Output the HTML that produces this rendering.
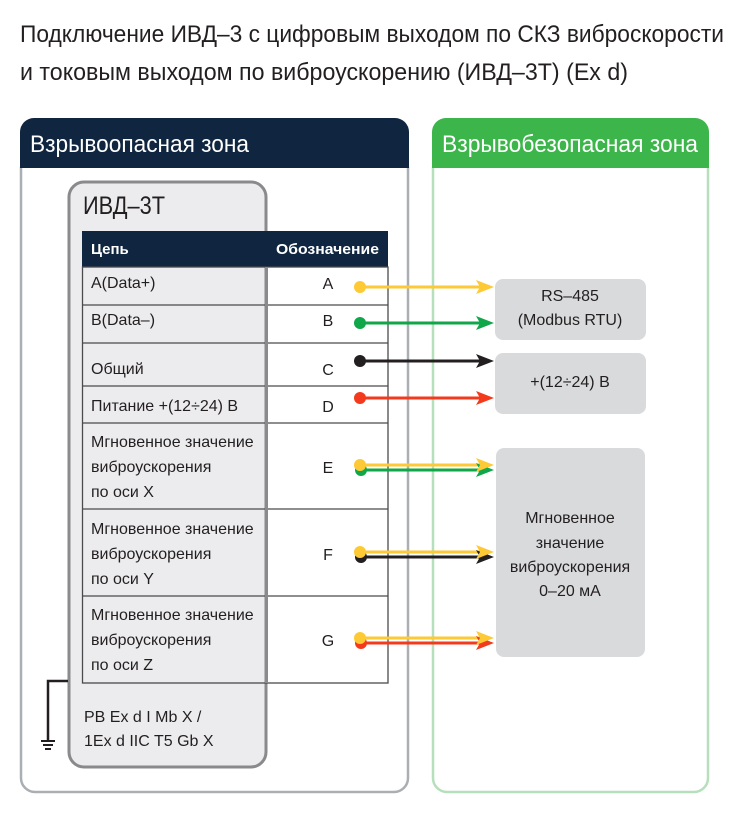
<!DOCTYPE html>
<html><head><meta charset="utf-8"><style>
html,body{margin:0;padding:0;background:#fff}
svg{display:block}
text{font-family:"Liberation Sans Narrow","Liberation Sans",sans-serif;fill:#231f20}
</style></head><body>
<svg width="733" height="821" viewBox="0 0 733 821" xmlns="http://www.w3.org/2000/svg">
<text x="20" y="42" font-size="24" textLength="704" lengthAdjust="spacingAndGlyphs">Подключение ИВД–3 с цифровым выходом по СКЗ виброскорости</text>
<text x="20" y="80" font-size="24" textLength="608" lengthAdjust="spacingAndGlyphs">и токовым выходом по виброускорению (ИВД–3Т) (Ex d)</text>

<path d="M21,167 V778 a14,14 0 0 0 14,14 H394 a14,14 0 0 0 14,-14 V167" fill="none" stroke="#abafb4" stroke-width="2.5"/>
<path d="M20,168 V132 a14,14 0 0 1 14,-14 H395 a14,14 0 0 1 14,14 V168 Z" fill="#10253f"/>
<text x="30" y="152" font-size="24" style="fill:#fff" textLength="219" lengthAdjust="spacingAndGlyphs">Взрывоопасная зона</text>

<path d="M433,167 V778 a14,14 0 0 0 14,14 H694 a14,14 0 0 0 14,-14 V167" fill="none" stroke="#b6e0bb" stroke-width="2.5"/>
<path d="M432,168 V132 a14,14 0 0 1 14,-14 H695 a14,14 0 0 1 14,14 V168 Z" fill="#3cb54a"/>
<text x="442" y="152" font-size="24" style="fill:#fff" textLength="256" lengthAdjust="spacingAndGlyphs">Взрывобезопасная зона</text>

<rect x="69" y="182" width="197" height="585" rx="15" fill="#ececee" stroke="#8a8a8c" stroke-width="3"/>
<text x="83" y="214" font-size="25" textLength="82" lengthAdjust="spacingAndGlyphs">ИВД–3Т</text>

<rect x="267" y="267" width="121" height="416" fill="#fff"/>
<rect x="82" y="231" width="306" height="36" fill="#10253f"/>
<text x="91" y="254" font-size="15" font-weight="bold" style="fill:#fff">Цепь</text>
<text x="276" y="254" font-size="15" font-weight="bold" style="fill:#fff" textLength="103" lengthAdjust="spacingAndGlyphs">Обозначение</text>
<g stroke="#4a4a4c" stroke-width="1.3" fill="none">
<rect x="82.5" y="267" width="305.5" height="416"/>
<line x1="82" y1="305" x2="388" y2="305"/>
<line x1="82" y1="343" x2="388" y2="343"/>
<line x1="82" y1="386" x2="388" y2="386"/>
<line x1="82" y1="423" x2="388" y2="423"/>
<line x1="82" y1="509" x2="388" y2="509"/>
<line x1="82" y1="596" x2="388" y2="596"/>
</g>
<line x1="266.5" y1="267" x2="266.5" y2="683" stroke="#8a8a8c" stroke-width="3"/>
<g font-size="16">
<text x="91" y="288">A(Data+)</text>
<text x="91" y="325">B(Data–)</text>
<text x="91" y="374">Общий</text>
<text x="91" y="411">Питание +(12÷24) В</text>
<text x="91" y="447">Мгновенное значение</text><text x="91" y="472">виброускорения</text><text x="91" y="497">по оси X</text>
<text x="91" y="534">Мгновенное значение</text><text x="91" y="559">виброускорения</text><text x="91" y="584">по оси Y</text>
<text x="91" y="620">Мгновенное значение</text><text x="91" y="645">виброускорения</text><text x="91" y="670">по оси Z</text>
<g text-anchor="middle">
<text x="328" y="289">A</text><text x="328" y="326">B</text><text x="328" y="375">C</text><text x="328" y="412">D</text>
<text x="328" y="473">E</text><text x="328" y="560">F</text><text x="328" y="646">G</text>
</g>
<text x="84" y="722">РВ Ex d I Mb X /</text>
<text x="84" y="746">1Ex d IIC T5 Gb X</text>
</g>

<path d="M68,681 H48 V740" fill="none" stroke="#231f20" stroke-width="2.5"/>
<g stroke="#231f20" stroke-width="2"><line x1="41" y1="741" x2="55" y2="741"/><line x1="43" y1="745" x2="53" y2="745"/><line x1="45" y1="749" x2="51" y2="749"/></g>

<g stroke-width="3" fill="none">
<line x1="360" y1="287" x2="482" y2="287" stroke="#fdc935"/>
<line x1="360" y1="323" x2="482" y2="323" stroke="#10a64a"/>
<line x1="360" y1="361" x2="482" y2="361" stroke="#231f20"/>
<line x1="360" y1="398" x2="482" y2="398" stroke="#f43a1c"/>
<line x1="361" y1="470" x2="482" y2="470" stroke="#10a64a"/>
<line x1="360" y1="465" x2="482" y2="465" stroke="#fdc935"/>
<line x1="361" y1="557" x2="482" y2="557" stroke="#231f20"/>
<line x1="360" y1="552" x2="482" y2="552" stroke="#fdc935"/>
<line x1="361" y1="643" x2="482" y2="643" stroke="#f43a1c"/>
<line x1="360" y1="638" x2="482" y2="638" stroke="#fdc935"/>
</g>
<g>
<circle cx="360" cy="287" r="6" fill="#fdc935"/><path d="M476,280 L494,287 L476,294 L480,287Z" fill="#fdc935"/>
<circle cx="360" cy="323" r="6" fill="#10a64a"/><path d="M476,316 L494,323 L476,330 L480,323Z" fill="#10a64a"/>
<circle cx="360" cy="361" r="6" fill="#231f20"/><path d="M476,354 L494,361 L476,368 L480,361Z" fill="#231f20"/>
<circle cx="360" cy="398" r="6" fill="#f43a1c"/><path d="M476,391 L494,398 L476,405 L480,398Z" fill="#f43a1c"/>
<circle cx="361" cy="470" r="6" fill="#10a64a"/><path d="M476,463 L494,470 L476,477 L480,470Z" fill="#10a64a"/>
<circle cx="360" cy="465" r="6" fill="#fdc935"/><path d="M476,458 L494,465 L476,472 L480,465Z" fill="#fdc935"/>
<circle cx="361" cy="557" r="6" fill="#231f20"/><path d="M476,550 L494,557 L476,564 L480,557Z" fill="#231f20"/>
<circle cx="360" cy="552" r="6" fill="#fdc935"/><path d="M476,545 L494,552 L476,559 L480,552Z" fill="#fdc935"/>
<circle cx="361" cy="643" r="6" fill="#f43a1c"/><path d="M476,636 L494,643 L476,650 L480,643Z" fill="#f43a1c"/>
<circle cx="360" cy="638" r="6" fill="#fdc935"/><path d="M476,631 L494,638 L476,645 L480,638Z" fill="#fdc935"/>
</g>

<rect x="495" y="279" width="151" height="61" rx="8" fill="#d9dadc"/>
<rect x="495" y="353" width="151" height="61" rx="8" fill="#d9dadc"/>
<rect x="496" y="448" width="149" height="209" rx="8" fill="#d9dadc"/>
<g font-size="16" text-anchor="middle">
<text x="570" y="301">RS–485</text>
<text x="570" y="325">(Modbus RTU)</text>
<text x="570" y="387">+(12÷24) В</text>
<text x="570" y="523">Мгновенное</text>
<text x="570" y="548">значение</text>
<text x="570" y="572">виброускорения</text>
<text x="570" y="596">0–20 мА</text>
</g>
</svg>
</body></html>
